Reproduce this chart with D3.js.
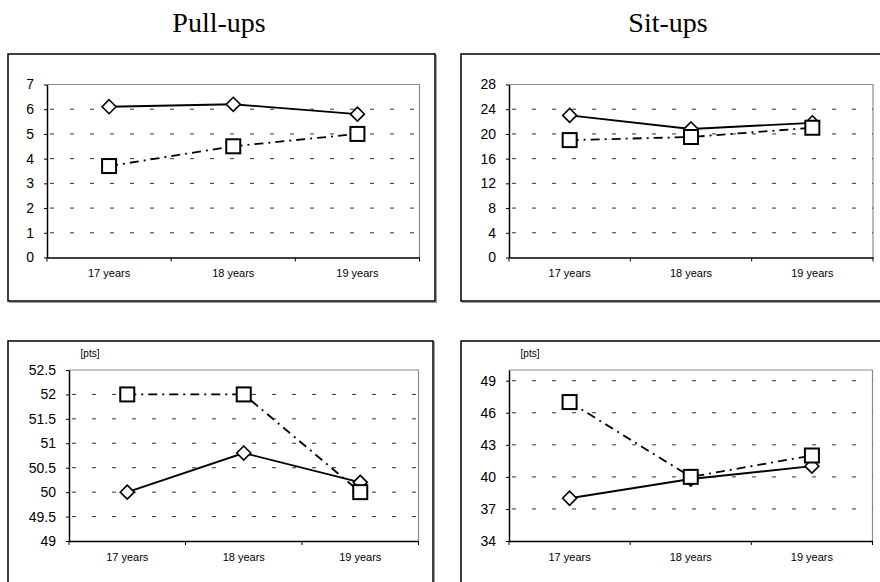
<!DOCTYPE html>
<html><head><meta charset="utf-8">
<script src="https://cdn.jsdelivr.net/npm/d3@7"></script>
<style>body{margin:0;background:#fff}svg{display:block}</style>
</head><body>
<svg id="c" width="880" height="582"></svg>
<script>
const categories = ["17 years", "18 years", "19 years"];
const titles = ["Pull-ups", "Sit-ups"];
const unitLabel = "[pts]";

const pullupsA = [6.1, 6.2, 5.8];
const pullupsB = [3.7, 4.5, 5.0];
const situpsA = [23, 20.8, 21.8];
const situpsB = [19, 19.5, 21];
const pointsLeftA = [50, 50.8, 50.2];
const pointsLeftB = [52, 52, 50];
const pointsRightA = [38, 39.8, 41];
const pointsRightB = [47, 40, 42];

const pullupsTicks = [0, 1, 2, 3, 4, 5, 6, 7];
const situpsTicks = [0, 4, 8, 12, 16, 20, 24, 28];
const pointsLeftTicks = [49, 49.5, 50, 50.5, 51, 51.5, 52, 52.5];
const pointsRightTicks = [34, 37, 40, 43, 46, 49];

const svg = d3.select("#c");

const panels = [
  {box:[8,54,427,247], plot:[47,84.5,419.5,257.5], dom:[0,7], ticks:pullupsTicks, a:pullupsA, b:pullupsB, title:titles[0], tx:219, unit:false},
  {box:[461,54,440,247], plot:[509,84.5,873,257.5], dom:[0,28], ticks:situpsTicks, a:situpsA, b:situpsB, title:titles[1], tx:668, unit:false},
  {box:[8,341,425,260], plot:[69,370,418.5,541], dom:[49,52.5], ticks:pointsLeftTicks, a:pointsLeftA, b:pointsLeftB, unit:true},
  {box:[461,341,440,260], plot:[509,370,872.5,541], dom:[34,50], ticks:pointsRightTicks, a:pointsRightA, b:pointsRightB, unit:true}
];

panels.forEach(p => {
  const g = svg.append("g");
  // outer frame with faint shadow
  g.append("rect").attr("x", p.box[0] + 1.5).attr("y", p.box[1] + 1.5).attr("width", p.box[2]).attr("height", p.box[3])
    .attr("fill", "none").attr("stroke", "#999").attr("stroke-width", 1);
  g.append("rect").attr("x", p.box[0]).attr("y", p.box[1]).attr("width", p.box[2]).attr("height", p.box[3])
    .attr("fill", "#fff").attr("stroke", "#000").attr("stroke-width", 1.5);
  if (p.title) {
    svg.append("text").attr("x", p.tx).attr("y", 31.5).attr("text-anchor", "middle")
      .attr("font-family", "Liberation Serif, Times New Roman, serif").attr("font-size", 28).text(p.title);
  }
  const [x0, y0, x1, y1] = p.plot;
  const x = d3.scaleBand().domain(categories).range([x0, x1]).padding(0);
  const y = d3.scaleLinear().domain(p.dom).range([y1, y0]);

  // plot area border (gray top/right)
  g.append("path").attr("d", `M${x0},${y0}H${x1}V${y1}`).attr("fill", "none").attr("stroke", "#8c8c8c").attr("stroke-width", 1.2);

  // gridlines
  g.append("g").selectAll("line").data(p.ticks.filter(t => t !== p.dom[0] && y(t) > y0 + 0.5)).join("line")
    .attr("x1", x0 + 3).attr("x2", x1).attr("y1", d => y(d)).attr("y2", d => y(d))
    .attr("stroke", "#333").attr("stroke-width", 1).attr("stroke-dasharray", "4,16");

  // y axis
  const ya = d3.axisLeft(y).tickValues(p.ticks).tickSize(3).tickSizeOuter(0).tickPadding(10).tickFormat(d3.format("~g"));
  const yg = g.append("g").attr("transform", `translate(${x0},0)`).call(ya);
  yg.select(".domain").attr("stroke", "#000").attr("stroke-width", 1.5);
  yg.selectAll(".tick line").attr("stroke", "#000");
  yg.selectAll("text").attr("font-family", "Liberation Sans, Arial, sans-serif").attr("font-size", 14).attr("fill", "#000");

  // x axis
  const xa = d3.axisBottom(x).tickSize(0).tickPadding(12).tickSizeOuter(0);
  const xg = g.append("g").attr("transform", `translate(0,${y1})`).call(xa);
  xg.select(".domain").attr("stroke", "#000").attr("stroke-width", 1.5);
  xg.selectAll("text").attr("font-family", "Liberation Sans, Arial, sans-serif").attr("font-size", 11).attr("fill", "#000");
  // boundary ticks
  const edges = categories.map(c => x(c)).concat([x1]);
  xg.selectAll("line.edge").data(edges).join("line").attr("class", "edge")
    .attr("x1", d => d).attr("x2", d => d).attr("y1", 0).attr("y2", 4).attr("stroke", "#000").attr("stroke-width", 1);

  if (p.unit) {
    g.append("text").attr("x", x0 + 21).attr("y", y0 - 13).attr("text-anchor", "middle")
      .attr("font-family", "Liberation Sans, Arial, sans-serif").attr("font-size", 10).text(unitLabel);
  }

  const cx = c => x(c) + x.bandwidth() / 2;
  const line = vals => d3.line().x((d, i) => cx(categories[i])).y(d => y(d))(vals);

  // series A: solid with diamonds
  g.append("path").attr("d", line(p.a)).attr("fill", "none").attr("stroke", "#000").attr("stroke-width", 1.8);
  g.selectAll("path.dia").data(p.a).join("path").attr("class", "dia")
    .attr("transform", (d, i) => `translate(${cx(categories[i])},${y(d)})`)
    .attr("d", "M0,-7L7,0L0,7L-7,0Z").attr("fill", "#fff").attr("stroke", "#000").attr("stroke-width", 1.6);

  // series B: dash-dot with squares
  g.append("path").attr("d", line(p.b)).attr("fill", "none").attr("stroke", "#000").attr("stroke-width", 1.8)
    .attr("stroke-dasharray", "9,5,2,5");
  g.selectAll("rect.sq").data(p.b).join("rect").attr("class", "sq")
    .attr("x", (d, i) => cx(categories[i]) - 7).attr("y", d => y(d) - 7).attr("width", 14).attr("height", 14)
    .attr("fill", "#fff").attr("stroke", "#000").attr("stroke-width", 2);
});
</script>
</body></html>
